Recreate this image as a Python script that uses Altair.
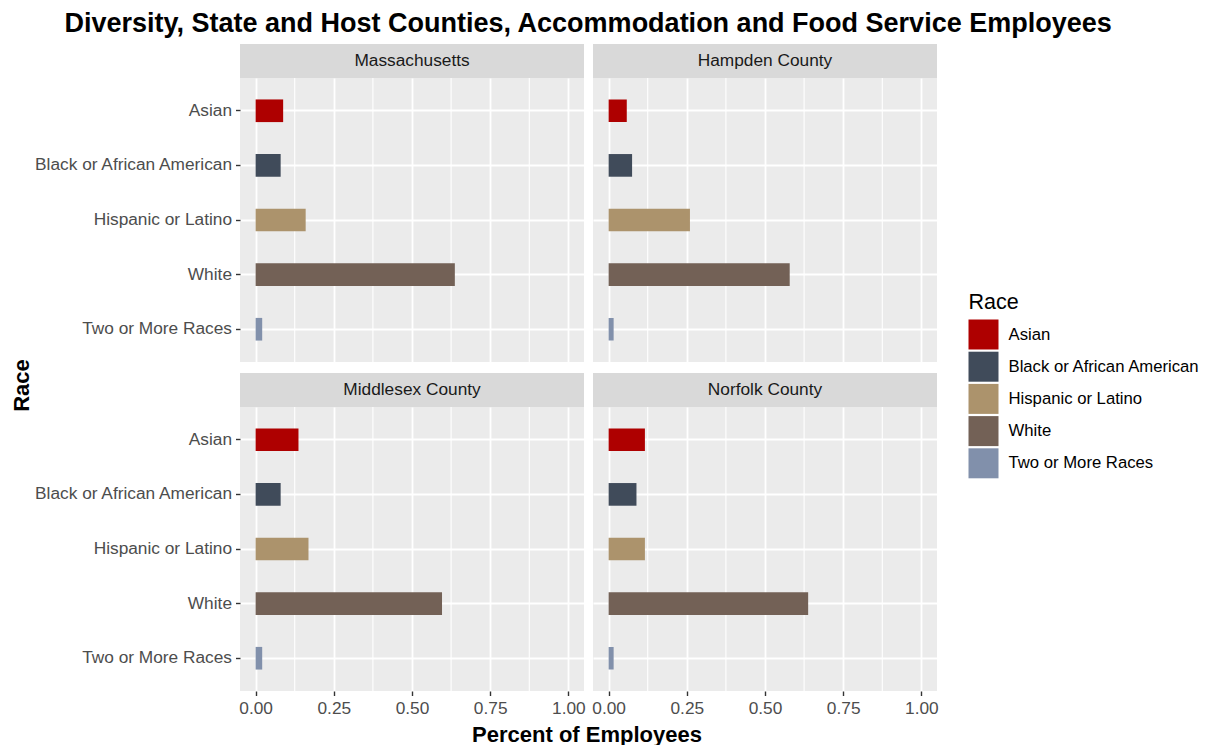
import altair as alt
import pandas as pd

FONT = "Liberation Sans"

regions = ["Massachusetts", "Hampden County", "Middlesex County", "Norfolk County"]
races = ["Asian", "Black or African American", "Hispanic or Latino", "White", "Two or More Races"]
colors = ["#AE0000", "#404B5A", "#AC936C", "#736156", "#8190AB"]

massachusetts = [0.088, 0.080, 0.160, 0.637, 0.021]
hampden = [0.058, 0.075, 0.260, 0.579, 0.016]
middlesex = [0.137, 0.080, 0.169, 0.596, 0.021]
norfolk = [0.116, 0.089, 0.116, 0.638, 0.016]

x_ticks = [0.0, 0.25, 0.5, 0.75, 1.0]
x_minor = [0.125, 0.375, 0.625, 0.875]

values = {
    "Massachusetts": massachusetts,
    "Hampden County": hampden,
    "Middlesex County": middlesex,
    "Norfolk County": norfolk,
}

rows = []
for reg in regions:
    for r, v in zip(races, values[reg]):
        rows.append({"Region": reg, "Race": r, "Percent": v})
df = pd.DataFrame(rows)
minor_df = pd.DataFrame({"Minor": x_minor})

PW = 344
PH = 284
SH = 34
HGAP = 9
VGAP = 11
TXT = 17.3
TTL = 22

xscale = alt.Scale(domain=[-0.05, 1.05], nice=False)
yscale = alt.Scale(domain=races, paddingInner=0.585, paddingOuter=0.3925)
cscale = alt.Scale(domain=races, range=colors)

common_axis = dict(
    domain=False, grid=True, gridColor="white", gridWidth=1.8,
    tickColor="#333333", tickSize=4.5, tickWidth=1.4,
    labelColor="#4D4D4D", labelFontSize=TXT, labelPadding=4, labelFont=FONT,
    labelLimit=0,
    titleFont=FONT, titleFontSize=TTL, titleFontWeight="bold", titleColor="black",
)


def body(region, show_y, show_x, titles=False):
    d = df[df["Region"] == region]
    if titles:
        x_axis = alt.Axis(
            values=x_ticks, format=".2f", title="Percent of Employees",
            labels=show_x, ticks=show_x, titleX=(2 * PW + HGAP) / 2 - 2, titleY=43,
            titleAlign="center", titleBaseline="middle", **common_axis,
        )
        y_axis = alt.Axis(
            title="Race", labels=show_y, ticks=show_y, bandPosition=0.5,
            titleX=-218.5, titleY=-22, titleAngle=270, titleAlign="center",
            titleBaseline="middle", **common_axis,
        )
    else:
        x_axis = alt.Axis(values=x_ticks, format=".2f", title=None,
                          labels=show_x, ticks=show_x, **common_axis)
        y_axis = alt.Axis(title=None, labels=show_y, ticks=show_y,
                          bandPosition=0.5, **common_axis)
    minor = alt.Chart(minor_df).mark_rule(color="white", strokeWidth=1.1).encode(
        x=alt.X("Minor:Q", scale=xscale, axis=x_axis)
    )
    bars = alt.Chart(d).mark_bar().encode(
        x=alt.X("Percent:Q", scale=xscale, axis=x_axis),
        y=alt.Y("Race:N", sort=races, scale=yscale, axis=y_axis),
        color=alt.Color(
            "Race:N",
            scale=cscale,
            sort=races,
            legend=alt.Legend(
                title="Race", orient="none", legendX=728.5, legendY=248,
                symbolType="square", symbolSize=900, symbolStrokeWidth=0,
                symbolOpacity=1, rowPadding=2.2, labelOffset=10, titlePadding=6,
                titleFontSize=21.5, titleFontWeight="normal", titleColor="black",
                labelFontSize=16.7, labelColor="black", titleFont=FONT, labelFont=FONT,
                labelLimit=0, padding=0,
            ),
        ),
    )
    return alt.layer(minor, bars).properties(
        width=PW, height=PH, view=alt.ViewBackground(fill="#EBEBEB", stroke=None)
    )


def strip(region, gap):
    sdf = pd.DataFrame({"Region": [region]})
    bg = alt.Chart(sdf).mark_rect(color="#D9D9D9").encode(
        x=alt.value(0), x2=alt.value(PW), y=alt.value(gap), y2=alt.value(gap + SH)
    )
    tx = alt.Chart(sdf).mark_text(
        fontSize=TXT, color="#1A1A1A", font=FONT, baseline="middle", align="center"
    ).encode(x=alt.value(PW / 2), y=alt.value(gap + SH / 2), text="Region:N")
    return alt.layer(bg, tx).properties(width=PW, height=gap + SH)


cells = [
    strip(regions[0], 0), strip(regions[1], 0),
    body(regions[0], True, False), body(regions[1], False, False),
    strip(regions[2], VGAP), strip(regions[3], VGAP),
    body(regions[2], True, True, titles=True), body(regions[3], False, True),
]

chart = alt.concat(
    *cells, columns=2, spacing={"row": 0, "column": HGAP}, bounds="flush", align="each"
).properties(
    title=alt.TitleParams(
        "Diversity, State and Host Counties, Accommodation and Food Service Employees",
        anchor="start", dx=54, fontSize=27, fontWeight="bold", font=FONT, color="black",
        offset=6,
    ),
    padding={"left": 2, "top": 2, "right": 0, "bottom": 0},
).configure_view(stroke=None)

chart.save("out.html", embed_options={"renderer": "svg", "actions": False})
